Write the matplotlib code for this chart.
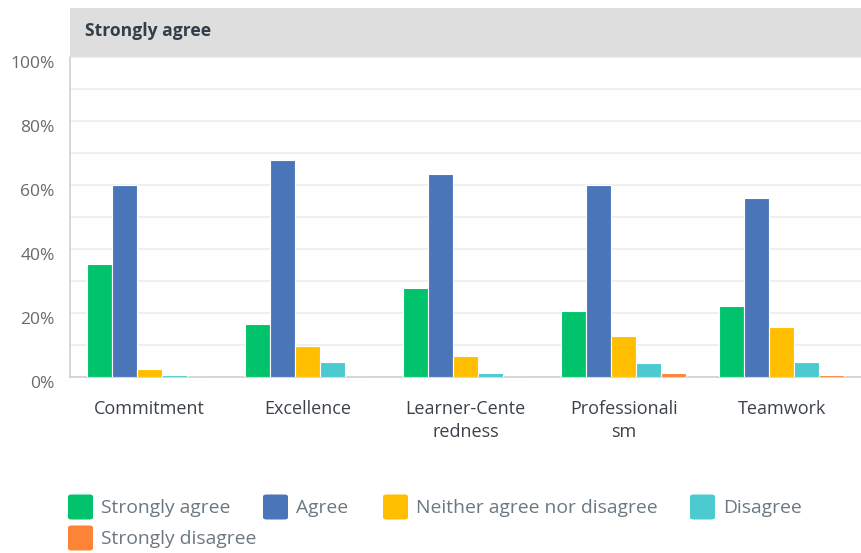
import numpy as np
import matplotlib.pyplot as plt
import matplotlib.transforms as mtransforms
from matplotlib.patches import FancyBboxPatch, Rectangle

plt.rcParams['font.family'] = ['Open Sans', 'DejaVu Sans']

categories = ['Commitment', 'Excellence', 'Learner-Cente\nredness', 'Professionali\nsm', 'Teamwork']
series = ['Strongly agree', 'Agree', 'Neither agree nor disagree', 'Disagree', 'Strongly disagree']
strongly_agree = [35.2, 16.7, 27.7, 20.7, 22.3]
agree = [60.0, 67.8, 63.3, 60.0, 55.8]
neither = [2.6, 9.7, 6.7, 12.7, 15.7]
disagree = [0.5, 4.7, 1.1, 4.3, 4.7]
strongly_disagree = [0.0, 0.0, 0.0, 1.25, 0.7]
colors = ['#00c36b', '#4a76b9', '#ffbf00', '#4bcbd0', '#fd8436']

values = [strongly_agree, agree, neither, disagree, strongly_disagree]

W, H = 861, 553
fig = plt.figure(figsize=(W / 100, H / 100), dpi=100)


def fx(px):
    return px / W


def fy(py):
    return 1 - py / H


ax = fig.add_axes([fx(70), fy(377), fx(861) - fx(70), fy(57) - fy(377)])

x = np.arange(len(categories))
bw = 0.158
for i, (vals, col) in enumerate(zip(values, colors)):
    ax.bar(x + (i - 2) * bw, vals, width=bw, color=col, edgecolor='white', linewidth=0.8, zorder=3)

ax.set_xlim(-0.5, len(categories) - 0.5)
ax.set_ylim(0, 100)
ax.set_yticks(np.arange(0, 101, 20))
ax.set_yticklabels([f'{v}%' for v in range(0, 101, 20)])
ax.set_yticks(np.arange(0, 101, 10), minor=True)
ax.grid(axis='y', which='both', color='#ececec', linewidth=1.2, zorder=0)
ax.set_xticks(x)
ax.set_xticklabels(categories, fontsize=13, color='#3b4249', linespacing=1.38)
ax.tick_params(axis='x', length=0, pad=16.5)
ax.tick_params(axis='y', which='both', length=0, pad=11, labelsize=12.5, labelcolor='#666a6e')
for side in ['top', 'right']:
    ax.spines[side].set_visible(False)
for side in ['left', 'bottom']:
    ax.spines[side].set_color('#d0d0d0')
    ax.spines[side].set_linewidth(1.2)

# y labels sit slightly below their gridlines
shift = mtransforms.ScaledTranslation(0, -5 / 100, fig.dpi_scale_trans)
for t in ax.get_yticklabels():
    t.set_transform(t.get_transform() + shift)

# header band
fig.patches.append(Rectangle((fx(70), fy(57)), fx(861) - fx(70), fy(8) - fy(57),
                             transform=fig.transFigure, facecolor='#dedede', edgecolor='none'))
fig.text(fx(85), fy(31), 'Strongly agree', fontsize=12.6, fontweight='bold',
         color='#333e48', va='center', ha='left')

# legend
legend_pos = [(68, 507), (263, 507), (383, 507), (690, 507), (68, 538)]
for (lx, ly), name, col in zip(legend_pos, series, colors):
    fig.patches.append(FancyBboxPatch((fx(lx), fy(ly + 12.5)), fx(25), fy(0) - fy(25),
                                      boxstyle='round,pad=0,rounding_size=0.004',
                                      transform=fig.transFigure, facecolor=col, edgecolor='none'))
    fig.text(fx(lx + 33), fy(ly + 1), name, fontsize=13.9, color='#6b7880', va='center', ha='left')

fig.savefig('out.png', dpi=100)
